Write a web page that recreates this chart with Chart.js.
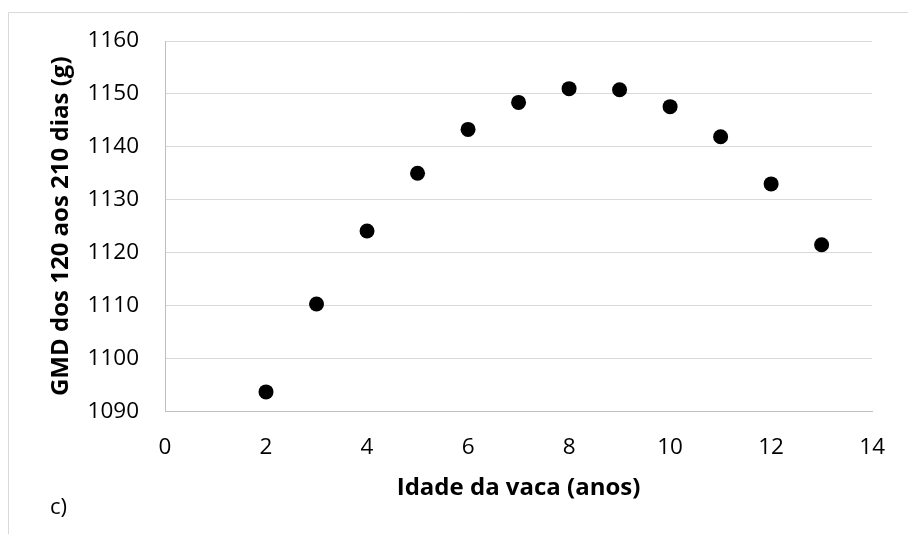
<!DOCTYPE html>
<html lang="pt">

<head>
    <meta charset="UTF-8">
    <title>GMD dos 120 aos 210 dias</title>
    <script src="https://cdn.jsdelivr.net/npm/chart.js"></script>
    <style>
        html, body { margin: 0; padding: 0; background: #fff; }
        .wrap { position: relative; width: 908px; height: 534px; }
        .panel {
            position: absolute; left: 50px; top: 490px;
            font-family: "Open Sans", sans-serif; font-size: 22px; color: #000;
        }
    </style>
</head>

<body>
    <div class="wrap">
        <canvas id="myChart" width="908" height="534"></canvas>
        <div class="panel">c)</div>
    </div>

    <script>
        // idade da vaca (anos) e GMD (g)
        const idade = [2, 3, 4, 5, 6, 7, 8, 9, 10, 11, 12, 13];
        const gmd = [1093.7, 1110.3, 1124.1, 1135.0, 1143.3, 1148.4, 1151.0, 1150.8, 1147.6, 1141.9, 1133.0, 1121.5];
        const xTicks = [0, 2, 4, 6, 8, 10, 12, 14];
        const yTicks = [1090, 1100, 1110, 1120, 1130, 1140, 1150, 1160];

        const points = idade.map((x, i) => ({ x: x, y: gmd[i] }));

        // faint frame around the chart (only left and top edges visible)
        const framePlugin = {
            id: 'frame',
            beforeDraw(chart) {
                const ctx = chart.ctx;
                ctx.save();
                ctx.strokeStyle = '#d9d9d9';
                ctx.lineWidth = 1;
                ctx.beginPath();
                ctx.moveTo(8.5, 534);
                ctx.lineTo(8.5, 12.5);
                ctx.lineTo(908, 12.5);
                ctx.stroke();
                ctx.restore();
            }
        };

        const ctx = document.getElementById('myChart').getContext('2d');
        const myChart = new Chart(ctx, {
            type: 'scatter',
            data: {
                datasets: [{
                    data: points,
                    backgroundColor: '#000',
                    borderColor: '#000',
                    borderWidth: 0,
                    pointRadius: 7.5,
                    pointHoverRadius: 7.5
                }]
            },
            options: {
                responsive: false,
                animation: false,
                layout: { padding: { left: 0, top: 41, right: 31, bottom: 0 } },
                plugins: {
                    legend: { display: false },
                    tooltip: { enabled: false }
                },
                scales: {
                    x: {
                        type: 'linear',
                        min: xTicks[0],
                        max: xTicks[xTicks.length - 1],
                        afterBuildTicks: (scale) => { scale.ticks = xTicks.map(v => ({ value: v })); },
                        afterFit: (scale) => { scale.height = 122.5; },
                        grid: { display: false, drawTicks: false },
                        border: { display: true, color: '#bfbfbf', width: 1 },
                        ticks: {
                            color: '#000',
                            padding: 23,
                            font: { family: 'Open Sans', size: 22.5 },
                            callback: (v) => String(v)
                        },
                        title: {
                            display: true,
                            text: 'Idade da vaca (anos)',
                            color: '#000',
                            padding: { top: 0, bottom: 31 },
                            font: { family: 'Open Sans', size: 24, weight: 'bold' }
                        }
                    },
                    y: {
                        min: yTicks[0],
                        max: yTicks[yTicks.length - 1],
                        afterBuildTicks: (scale) => { scale.ticks = yTicks.map(v => ({ value: v })); },
                        afterFit: (scale) => { scale.width = 165; },
                        grid: { color: '#d9d9d9', lineWidth: 1, drawTicks: false },
                        border: { display: true, color: '#bfbfbf', width: 1 },
                        ticks: {
                            color: '#000',
                            padding: 26,
                            font: { family: 'Open Sans', size: 22.5 },
                            callback: (v) => String(v)
                        },
                        title: {
                            display: true,
                            text: 'GMD dos 120 aos 210 dias (g)',
                            color: '#000',
                            padding: { top: 47, bottom: 0 },
                            font: { family: 'Open Sans', size: 24, weight: 'bold' }
                        }
                    }
                }
            },
            plugins: [framePlugin]
        });
    </script>

</body>

</html>
